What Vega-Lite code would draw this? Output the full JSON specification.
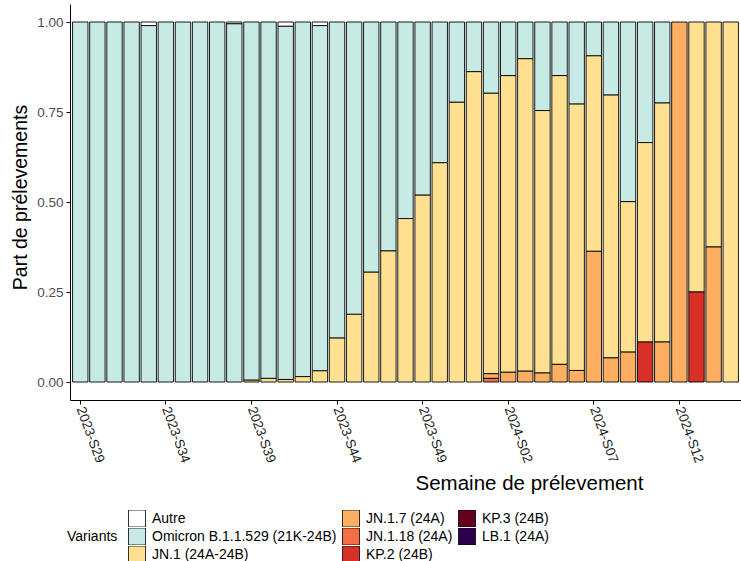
{
  "$schema": "https://vega.github.io/schema/vega-lite/v6.json",
  "width": 671,
  "height": 396,
  "autosize": {"type": "none"},
  "padding": {"left": 70, "top": 4, "right": 0, "bottom": 161},
  "background": "white",
  "config": {"font": "Liberation Sans", "view": {"stroke": null}, "axis": {"grid": false}},
  "data": {"values": [
    {"semaine": "2023-S29", "variant": "Omicron B.1.1.529 (21K-24B)", "part": 1},
    {"semaine": "2023-S30", "variant": "Omicron B.1.1.529 (21K-24B)", "part": 1},
    {"semaine": "2023-S31", "variant": "Omicron B.1.1.529 (21K-24B)", "part": 1},
    {"semaine": "2023-S32", "variant": "Omicron B.1.1.529 (21K-24B)", "part": 1},
    {"semaine": "2023-S33", "variant": "Autre", "part": 0.01},
    {"semaine": "2023-S33", "variant": "Omicron B.1.1.529 (21K-24B)", "part": 0.99},
    {"semaine": "2023-S34", "variant": "Omicron B.1.1.529 (21K-24B)", "part": 1},
    {"semaine": "2023-S35", "variant": "Omicron B.1.1.529 (21K-24B)", "part": 1},
    {"semaine": "2023-S36", "variant": "Omicron B.1.1.529 (21K-24B)", "part": 1},
    {"semaine": "2023-S37", "variant": "Omicron B.1.1.529 (21K-24B)", "part": 1},
    {"semaine": "2023-S38", "variant": "Autre", "part": 0.005},
    {"semaine": "2023-S38", "variant": "Omicron B.1.1.529 (21K-24B)", "part": 0.995},
    {"semaine": "2023-S39", "variant": "Omicron B.1.1.529 (21K-24B)", "part": 0.995},
    {"semaine": "2023-S39", "variant": "JN.1 (24A-24B)", "part": 0.005},
    {"semaine": "2023-S40", "variant": "Omicron B.1.1.529 (21K-24B)", "part": 0.99},
    {"semaine": "2023-S40", "variant": "JN.1 (24A-24B)", "part": 0.01},
    {"semaine": "2023-S41", "variant": "Autre", "part": 0.012},
    {"semaine": "2023-S41", "variant": "Omicron B.1.1.529 (21K-24B)", "part": 0.981},
    {"semaine": "2023-S41", "variant": "JN.1 (24A-24B)", "part": 0.007},
    {"semaine": "2023-S42", "variant": "Omicron B.1.1.529 (21K-24B)", "part": 0.985},
    {"semaine": "2023-S42", "variant": "JN.1 (24A-24B)", "part": 0.015},
    {"semaine": "2023-S43", "variant": "Autre", "part": 0.01},
    {"semaine": "2023-S43", "variant": "Omicron B.1.1.529 (21K-24B)", "part": 0.959},
    {"semaine": "2023-S43", "variant": "JN.1 (24A-24B)", "part": 0.031},
    {"semaine": "2023-S44", "variant": "Omicron B.1.1.529 (21K-24B)", "part": 0.878},
    {"semaine": "2023-S44", "variant": "JN.1 (24A-24B)", "part": 0.122},
    {"semaine": "2023-S45", "variant": "Omicron B.1.1.529 (21K-24B)", "part": 0.812},
    {"semaine": "2023-S45", "variant": "JN.1 (24A-24B)", "part": 0.188},
    {"semaine": "2023-S46", "variant": "Omicron B.1.1.529 (21K-24B)", "part": 0.695},
    {"semaine": "2023-S46", "variant": "JN.1 (24A-24B)", "part": 0.305},
    {"semaine": "2023-S47", "variant": "Omicron B.1.1.529 (21K-24B)", "part": 0.636},
    {"semaine": "2023-S47", "variant": "JN.1 (24A-24B)", "part": 0.364},
    {"semaine": "2023-S48", "variant": "Omicron B.1.1.529 (21K-24B)", "part": 0.546},
    {"semaine": "2023-S48", "variant": "JN.1 (24A-24B)", "part": 0.454},
    {"semaine": "2023-S49", "variant": "Omicron B.1.1.529 (21K-24B)", "part": 0.481},
    {"semaine": "2023-S49", "variant": "JN.1 (24A-24B)", "part": 0.519},
    {"semaine": "2023-S50", "variant": "Omicron B.1.1.529 (21K-24B)", "part": 0.391},
    {"semaine": "2023-S50", "variant": "JN.1 (24A-24B)", "part": 0.609},
    {"semaine": "2023-S51", "variant": "Omicron B.1.1.529 (21K-24B)", "part": 0.223},
    {"semaine": "2023-S51", "variant": "JN.1 (24A-24B)", "part": 0.777},
    {"semaine": "2023-S52", "variant": "Omicron B.1.1.529 (21K-24B)", "part": 0.138},
    {"semaine": "2023-S52", "variant": "JN.1 (24A-24B)", "part": 0.862},
    {"semaine": "2024-S01", "variant": "Omicron B.1.1.529 (21K-24B)", "part": 0.198},
    {"semaine": "2024-S01", "variant": "JN.1 (24A-24B)", "part": 0.779},
    {"semaine": "2024-S01", "variant": "JN.1.7 (24A)", "part": 0.013},
    {"semaine": "2024-S01", "variant": "JN.1.18 (24A)", "part": 0.01},
    {"semaine": "2024-S02", "variant": "Omicron B.1.1.529 (21K-24B)", "part": 0.149},
    {"semaine": "2024-S02", "variant": "JN.1 (24A-24B)", "part": 0.824},
    {"semaine": "2024-S02", "variant": "JN.1.7 (24A)", "part": 0.027},
    {"semaine": "2024-S03", "variant": "Omicron B.1.1.529 (21K-24B)", "part": 0.102},
    {"semaine": "2024-S03", "variant": "JN.1 (24A-24B)", "part": 0.868},
    {"semaine": "2024-S03", "variant": "JN.1.7 (24A)", "part": 0.03},
    {"semaine": "2024-S04", "variant": "Omicron B.1.1.529 (21K-24B)", "part": 0.246},
    {"semaine": "2024-S04", "variant": "JN.1 (24A-24B)", "part": 0.729},
    {"semaine": "2024-S04", "variant": "JN.1.7 (24A)", "part": 0.025},
    {"semaine": "2024-S05", "variant": "Omicron B.1.1.529 (21K-24B)", "part": 0.149},
    {"semaine": "2024-S05", "variant": "JN.1 (24A-24B)", "part": 0.802},
    {"semaine": "2024-S05", "variant": "JN.1.7 (24A)", "part": 0.049},
    {"semaine": "2024-S06", "variant": "Omicron B.1.1.529 (21K-24B)", "part": 0.228},
    {"semaine": "2024-S06", "variant": "JN.1 (24A-24B)", "part": 0.74},
    {"semaine": "2024-S06", "variant": "JN.1.7 (24A)", "part": 0.032},
    {"semaine": "2024-S07", "variant": "Omicron B.1.1.529 (21K-24B)", "part": 0.094},
    {"semaine": "2024-S07", "variant": "JN.1 (24A-24B)", "part": 0.543},
    {"semaine": "2024-S07", "variant": "JN.1.7 (24A)", "part": 0.363},
    {"semaine": "2024-S08", "variant": "Omicron B.1.1.529 (21K-24B)", "part": 0.203},
    {"semaine": "2024-S08", "variant": "JN.1 (24A-24B)", "part": 0.73},
    {"semaine": "2024-S08", "variant": "JN.1.7 (24A)", "part": 0.067},
    {"semaine": "2024-S09", "variant": "Omicron B.1.1.529 (21K-24B)", "part": 0.499},
    {"semaine": "2024-S09", "variant": "JN.1 (24A-24B)", "part": 0.418},
    {"semaine": "2024-S09", "variant": "JN.1.7 (24A)", "part": 0.083},
    {"semaine": "2024-S10", "variant": "Omicron B.1.1.529 (21K-24B)", "part": 0.335},
    {"semaine": "2024-S10", "variant": "JN.1 (24A-24B)", "part": 0.554},
    {"semaine": "2024-S10", "variant": "KP.2 (24B)", "part": 0.111},
    {"semaine": "2024-S11", "variant": "Omicron B.1.1.529 (21K-24B)", "part": 0.225},
    {"semaine": "2024-S11", "variant": "JN.1 (24A-24B)", "part": 0.664},
    {"semaine": "2024-S11", "variant": "JN.1.7 (24A)", "part": 0.111},
    {"semaine": "2024-S12", "variant": "JN.1.7 (24A)", "part": 1},
    {"semaine": "2024-S13", "variant": "JN.1 (24A-24B)", "part": 0.75},
    {"semaine": "2024-S13", "variant": "KP.2 (24B)", "part": 0.25},
    {"semaine": "2024-S14", "variant": "JN.1 (24A-24B)", "part": 0.625},
    {"semaine": "2024-S14", "variant": "JN.1.7 (24A)", "part": 0.375},
    {"semaine": "2024-S15", "variant": "JN.1 (24A-24B)", "part": 1}
  ]},
  "transform": [
    {"calculate": "indexof(['Autre', 'Omicron B.1.1.529 (21K-24B)', 'JN.1 (24A-24B)', 'JN.1.7 (24A)', 'JN.1.18 (24A)', 'KP.2 (24B)', 'KP.3 (24B)', 'LB.1 (24A)'], datum.variant)", "as": "rang"}
  ],
  "mark": {"type": "bar", "stroke": "black", "strokeWidth": 0.9},
  "encoding": {
    "x": {
      "field": "semaine", "type": "ordinal", "sort": null,
      "scale": {"paddingInner": 0.1, "paddingOuter": 0.15},
      "axis": {
        "values": ["2023-S29", "2023-S34", "2023-S39", "2023-S44", "2023-S49", "2024-S02", "2024-S07", "2024-S12"],
        "labelAngle": 70, "labelAlign": "left", "labelBaseline": "middle",
        "labelFontSize": 13.5, "labelColor": "#222222", "labelPadding": 3,
        "tickColor": "black", "tickSize": 4, "domainColor": "black", "domainWidth": 1,
        "title": "Semaine de prélevement", "titleFontSize": 20.5, "titleFontWeight": "normal",
        "titleColor": "black", "titleX": 459, "titleY": 89, "titleBaseline": "alphabetic", "titleAlign": "center"
      }
    },
    "y": {
      "field": "part", "type": "quantitative", "stack": "zero",
      "scale": {"domain": [-0.05, 1.05], "nice": false, "zero": false},
      "axis": {
        "values": [0, 0.25, 0.5, 0.75, 1], "format": ".2f",
        "labelFontSize": 13.5, "labelColor": "#4d4d4d", "labelPadding": 3,
        "tickColor": "black", "tickSize": 4, "domainColor": "black", "domainWidth": 1,
        "title": "Part de prélevements", "titleFontSize": 19.5, "titleFontWeight": "normal",
        "titleColor": "black", "titleX": -44, "titleY": 193, "titleBaseline": "alphabetic", "titleAlign": "center"
      }
    },
    "color": {
      "field": "variant", "type": "nominal",
      "scale": {
        "domain": ["Autre", "Omicron B.1.1.529 (21K-24B)", "JN.1 (24A-24B)", "JN.1.7 (24A)", "JN.1.18 (24A)", "KP.2 (24B)", "KP.3 (24B)", "LB.1 (24A)"],
        "range": ["#FFFFFF", "#C7EAE5", "#FEE090", "#FDAE61", "#F46D43", "#D73027", "#67001F", "#2D004B"]
      },
      "legend": {
        "orient": "none", "legendX": -3, "legendY": 506, "columns": 3,
        "title": "Variants", "titleOrient": "left", "titleAnchor": "middle", "titleBaseline": "middle",
        "titleFontSize": 14, "titleFontWeight": "normal", "titleColor": "black", "titlePadding": 10,
        "labelFontSize": 14, "labelColor": "black", "labelOffset": 6, "labelLimit": 0,
        "symbolType": "square", "symbolSize": 289, "symbolStrokeColor": "black", "symbolStrokeWidth": 0.8,
        "clipHeight": 17, "rowPadding": 1, "columnPadding": 5, "symbolOpacity": 1
      }
    },
    "order": {"field": "rang", "type": "quantitative", "sort": "descending"}
  }
}
